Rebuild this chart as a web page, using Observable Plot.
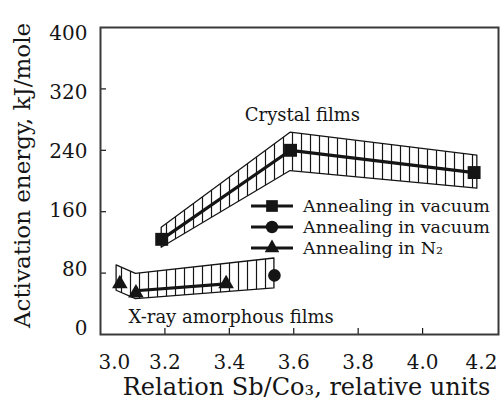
<!DOCTYPE html>
<html><head><meta charset="utf-8">
<script src="https://cdn.jsdelivr.net/npm/d3@7"></script>
<script src="https://cdn.jsdelivr.net/npm/@observablehq/plot@0.6"></script>
<style>body{margin:0;background:#fff}</style>
</head><body><div id="chart"></div>
<script>
// ---- data ----
const xTickValues = [3.0, 3.2, 3.4, 3.6, 3.8, 4.0, 4.2];
const yTickValues = [0, 80, 160, 240, 320, 400];

const crystalX = [3.19, 3.59, 4.16];
const crystalY = [124, 240, 211];
const crystalBandX = [3.19, 3.59, 4.17];
const crystalBandHi = [139, 263, 233];
const crystalBandLo = [113, 213, 190];

const amorphTriX = [3.06, 3.11, 3.39];
const amorphTriY = [66, 54, 66];
const amorphLineX = [3.11, 3.39];
const amorphLineY = [57, 66];
const amorphCircleX = [3.54];
const amorphCircleY = [77];
const amorphBandX = [3.05, 3.11, 3.54];
const amorphBandHi = [90, 79, 99];
const amorphBandLo = [57, 46, 60];

const legendLabels = ["Annealing in vacuum", "Annealing in vacuum", "Annealing in N₂"];
const legendSymbols = ["square", "circle", "triangle"];
const legendR = {square: 6.6, circle: 6.2, triangle: 5.4};

const annotations = [
  {x: 3.627, y: 286, text: "Crystal films", anchor: "middle"},
  {x: 3.087, y: 22, text: "X-ray amorphous films", anchor: "start"}
];

// ---- build tables ----
const zip = (xs, ys) => xs.map((x, i) => ({x, y: ys[i]}));
const band = (xs, lo, hi) => xs.map((x, i) => ({x, lo: lo[i], hi: hi[i]}));
const crystalPts = zip(crystalX, crystalY);
const crystalBand = band(crystalBandX, crystalBandLo, crystalBandHi);
const triPts = zip(amorphTriX, amorphTriY);
const amorphLine = zip(amorphLineX, amorphLineY);
const circlePts = zip(amorphCircleX, amorphCircleY);
const amorphBand = band(amorphBandX, amorphBandLo, amorphBandHi);

const ink = "#151515";
const innerX = xTickValues.slice(1, -1);
const innerY = yTickValues.slice(1, -1);

const plot = Plot.plot({
  width: 501, height: 402,
  marginLeft: 100, marginRight: 3, marginTop: 27, marginBottom: 68,
  style: {fontFamily: "'DejaVu Serif', serif", fontSize: "20px", background: "#fff", color: ink},
  x: {domain: [3.0, 4.2357]},
  y: {domain: [0, 400]},
  marks: [
    Plot.areaY(crystalBand, {x: "x", y1: "lo", y2: "hi", fill: "url(#vhatch)", stroke: ink, strokeWidth: 1.3}),
    Plot.areaY(amorphBand, {x: "x", y1: "lo", y2: "hi", fill: "url(#vhatch)", stroke: ink, strokeWidth: 1.3}),
    Plot.line(crystalPts, {x: "x", y: "y", stroke: ink, strokeWidth: 3.2}),
    Plot.line(amorphLine, {x: "x", y: "y", stroke: ink, strokeWidth: 3.2}),
    Plot.dot(crystalPts, {x: "x", y: "y", symbol: "square", r: 7.3, fill: ink, stroke: "none"}),
    Plot.dot(triPts, {x: "x", y: "y", symbol: "triangle", r: 5.8, fill: ink, stroke: "none"}),
    Plot.dot(circlePts, {x: "x", y: "y", symbol: "circle", r: 6.3, fill: ink, stroke: "none"}),
    Plot.axisX({ticks: innerX, tickSize: -6, tickFormat: () => "", label: null, stroke: ink, strokeWidth: 1.2}),
    Plot.axisY({ticks: innerY, tickSize: -6, tickFormat: () => "", label: null, stroke: ink, strokeWidth: 1.2}),
    Plot.frame({stroke: "#3a3a3a", strokeWidth: 2}),
    // x tick labels
    Plot.text(innerX, {x: d => d, y: 0, dy: 28, text: d => d.toFixed(1), fill: ink, fontSize: 20}),
    Plot.text([xTickValues[0]], {x: d => d, y: 0, dy: 28, dx: -2, textAnchor: "start", text: d => d.toFixed(1), fill: ink, fontSize: 20}),
    Plot.text([xTickValues[xTickValues.length - 1]], {x: d => d, y: 0, dy: 28, dx: -5.5, text: d => d.toFixed(1), fill: ink, fontSize: 20}),
    // y tick labels (slightly compressed toward the middle, as in the reference)
    Plot.text(yTickValues, {x: 3.0, y: d => 7.8 + 0.961 * d, dx: -13, textAnchor: "end", text: d => String(d), fill: ink, fontSize: 20}),
    // annotations
    Plot.text(annotations, {x: "x", y: "y", text: "text", textAnchor: "start", fill: ink, fontSize: 18, filter: d => d.anchor === "start"}),
    Plot.text(annotations, {x: "x", y: "y", text: "text", textAnchor: "middle", fill: ink, fontSize: 18, filter: d => d.anchor === "middle"}),
    // axis titles
    Plot.text(["Relation Sb/Co₃, relative units"], {frameAnchor: "bottom", dx: 7, dy: 53, lineAnchor: "middle", fill: ink, fontSize: 24}),
    Plot.text(["Activation energy, kJ/mole"], {frameAnchor: "left", rotate: -90, dx: -78, dy: -5.5, lineAnchor: "middle", textAnchor: "middle", fill: ink, fontSize: 23})
  ]
});

// hatch pattern (vertical lines)
const svg = d3.select(plot);
const defs = svg.insert("defs", ":first-child");
defs.append("pattern")
  .attr("id", "vhatch").attr("patternUnits", "userSpaceOnUse")
  .attr("width", 9).attr("height", 9)
  .append("line").attr("x1", 4.5).attr("x2", 4.5).attr("y1", -1).attr("y2", 10)
  .attr("stroke", ink).attr("stroke-width", 1.2);

// in-plot legend
const symMap = {square: d3.symbolSquare, circle: d3.symbolCircle, triangle: d3.symbolTriangle};
const lg = svg.append("g").attr("font-family", "'DejaVu Serif', serif").attr("font-size", 17.5)
  .attr("fill", ink).attr("text-anchor", "start");
legendLabels.forEach((label, i) => {
  const y = 206 + 21 * i;
  lg.append("line").attr("x1", 251).attr("x2", 293).attr("y1", y).attr("y2", y)
    .attr("stroke", ink).attr("stroke-width", 3);
  const r = legendR[legendSymbols[i]];
  lg.append("path").attr("transform", `translate(272,${y})`)
    .attr("d", d3.symbol(symMap[legendSymbols[i]], Math.PI * r * r)())
    .attr("fill", ink);
  lg.append("text").attr("x", 303).attr("y", y).attr("dy", "0.35em").attr("text-anchor", "start").text(label);
});

document.getElementById("chart").appendChild(plot);
</script>
</body></html>
